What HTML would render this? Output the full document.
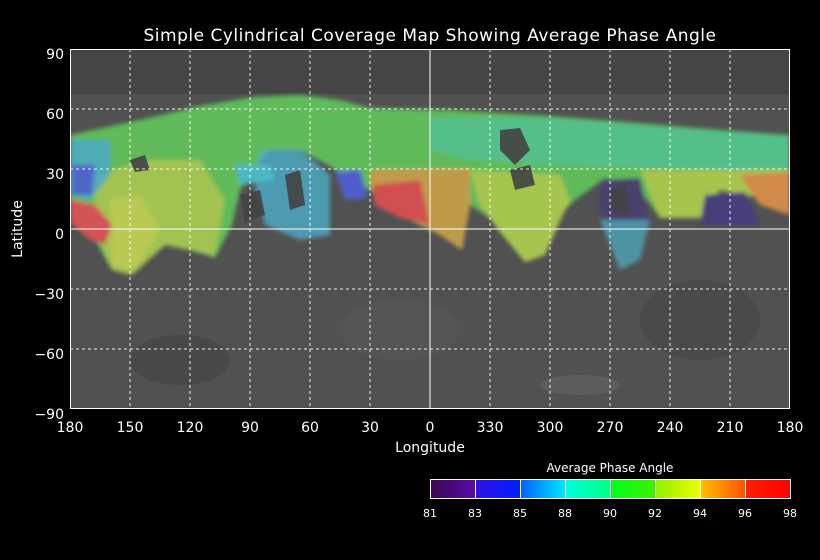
<!DOCTYPE html>
<html><head><meta charset="utf-8"><style>
html,body{margin:0;padding:0;background:#000;}
svg{display:block;}
text{font-family:"DejaVu Sans","Liberation Sans",sans-serif;fill:#fff;}
</style></head><body>
<svg width="820" height="560" viewBox="0 0 820 560" xmlns="http://www.w3.org/2000/svg">
<defs>
<filter id="b2"><feGaussianBlur stdDeviation="2"/></filter>
<linearGradient id="cb" x1="0" x2="1" y1="0" y2="0">
<stop offset="0" stop-color="#3a0850"/><stop offset="0.125" stop-color="#5a0aa8"/>
<stop offset="0.125" stop-color="#3010e0"/><stop offset="0.25" stop-color="#0020ff"/>
<stop offset="0.25" stop-color="#0060ff"/><stop offset="0.375" stop-color="#00e8ff"/>
<stop offset="0.375" stop-color="#00ffe0"/><stop offset="0.5" stop-color="#00ff80"/>
<stop offset="0.5" stop-color="#00ff20"/><stop offset="0.625" stop-color="#40f000"/>
<stop offset="0.625" stop-color="#90f000"/><stop offset="0.75" stop-color="#f0ff00"/>
<stop offset="0.75" stop-color="#ffc000"/><stop offset="0.875" stop-color="#ff5000"/>
<stop offset="0.875" stop-color="#ff2000"/><stop offset="1" stop-color="#ff0000"/>
</linearGradient>
<clipPath id="pc"><rect x="70" y="49" width="720" height="360"/></clipPath>
</defs>
<text x="430" y="41" font-size="17" text-anchor="middle" letter-spacing="0.5">Simple Cylindrical Coverage Map Showing Average Phase Angle</text>
<rect x="70" y="49" width="720" height="360" fill="#515151"/>
<g clip-path="url(#pc)">
<rect x="70" y="49" width="720" height="45" fill="#454545"/>
<ellipse cx="580" cy="385" rx="40" ry="10" fill="#6a6a6a" opacity="0.5"/>
<ellipse cx="180" cy="360" rx="50" ry="25" fill="#484848"/>
<ellipse cx="400" cy="330" rx="60" ry="30" fill="#5a5a5a" opacity="0.5"/>
<ellipse cx="700" cy="320" rx="60" ry="40" fill="#4a4a4a"/>
<g filter="url(#b2)" opacity="0.9">
<polygon fill="#62c65c" points="70,135 140,120 200,106 255,97 300,95 340,100 370,108 450,110 550,116 650,124 720,130 790,135 790,205 760,198 720,190 700,218 660,218 640,190 605,178 575,200 560,215 545,255 525,262 500,232 490,218 470,205 462,250 440,235 400,215 370,190 340,172 300,150 270,150 240,190 232,225 215,258 190,250 165,245 132,275 112,270 92,235 70,222"/>
<polygon fill="#52cc9c" opacity="0.8" points="430,118 550,118 650,126 790,136 790,172 650,168 550,165 470,160 430,150"/>
<polygon fill="#b4d050" opacity="0.9" points="95,175 150,160 200,160 225,200 215,255 190,250 165,245 132,275 112,270 95,230"/>
<polygon fill="#d8d858" opacity="0.6" points="110,200 140,195 160,230 135,270 112,265"/>
<polygon fill="#4cb4cc" opacity="0.9" points="70,140 110,140 110,175 90,200 70,195"/>
<polygon fill="#5060d8" opacity="0.9" points="72,165 95,165 92,195 72,195"/>
<polygon fill="#e05454" points="70,200 95,205 112,225 105,245 90,240 70,222"/>
<polygon fill="#d8a048" opacity="0.9" points="370,170 470,168 470,205 462,250 440,235 400,215 372,192"/>
<polygon fill="#e05050" points="372,185 420,180 430,225 400,218 375,205"/>
<polygon fill="#5060d8" points="335,172 360,170 368,198 345,200"/>
<polygon fill="#4cb8d4" opacity="0.8" points="260,150 300,150 330,175 330,235 300,240 265,225 255,190"/>
<polygon fill="#4cc4d0" points="235,165 270,165 275,180 240,185"/>
<polygon fill="#c4d44c" opacity="0.8" points="470,170 560,175 570,200 545,255 525,262 500,232 480,205"/>
<polygon fill="#ccd448" opacity="0.75" points="640,170 790,170 790,205 760,198 720,190 700,218 660,218"/>
<polygon fill="#4a4070" points="600,180 640,178 650,225 615,232 598,210"/>
<polygon fill="#e09048" points="740,175 790,172 790,215 760,205"/>
<polygon fill="#4a3a80" points="705,195 745,192 760,225 700,225"/>
<polygon fill="#4cbcd0" opacity="0.7" points="600,220 650,220 640,260 620,270"/>
</g>
<g fill="#434343" opacity="0.9">
<polygon points="500,130 520,128 530,150 515,165 500,150"/>
<polygon points="510,170 530,165 535,185 515,190"/>
<polygon points="240,195 260,190 265,215 245,222"/>
<polygon points="130,160 145,155 150,170 135,172"/>
<polygon points="285,175 300,170 305,205 290,210"/>
<polygon points="610,190 625,185 630,210 615,215"/>
</g>
</g>
<g stroke="#fff" stroke-width="1" stroke-dasharray="3,3" fill="none" opacity="0.9">
<path d="M130 49V409M190 49V409M250 49V409M310 49V409M370 49V409M490 49V409M550 49V409M610 49V409M670 49V409M730 49V409"/>
<path d="M70 109H790M70 169H790M70 289H790M70 349H790"/>
</g>
<g stroke="#fff" stroke-width="1" fill="none">
<path d="M430 49V409M70 229H790"/>
<rect x="70.5" y="49.5" width="719" height="359"/>
</g>
<g font-size="14" text-anchor="end">
<text x="64" y="59">90</text><text x="64" y="119">60</text><text x="64" y="179">30</text>
<text x="64" y="239">0</text><text x="64" y="299">−30</text><text x="64" y="359">−60</text><text x="64" y="419">−90</text>
</g>
<g font-size="14" text-anchor="middle">
<text x="70" y="432">180</text><text x="130" y="432">150</text><text x="190" y="432">120</text><text x="250" y="432">90</text>
<text x="310" y="432">60</text><text x="370" y="432">30</text><text x="430" y="432">0</text><text x="490" y="432">330</text>
<text x="550" y="432">300</text><text x="610" y="432">270</text><text x="670" y="432">240</text><text x="730" y="432">210</text><text x="790" y="432">180</text>
</g>
<text x="430" y="452" font-size="14" text-anchor="middle">Longitude</text>
<text transform="translate(22,229) rotate(-90)" font-size="14" text-anchor="middle">Latitude</text>
<text x="610" y="472" font-size="12" text-anchor="middle">Average Phase Angle</text>
<rect x="430" y="479" width="361" height="20" fill="url(#cb)"/>
<g stroke="#fff" stroke-width="1" fill="none">
<rect x="430.5" y="479.5" width="360" height="19"/>
<path d="M475.5 479V499M520.5 479V499M565.5 479V499M610.5 479V499M655.5 479V499M700.5 479V499M745.5 479V499"/>
</g>
<g font-size="11" text-anchor="middle">
<text x="430" y="517">81</text><text x="475" y="517">83</text><text x="520" y="517">85</text><text x="565" y="517">88</text>
<text x="610" y="517">90</text><text x="655" y="517">92</text><text x="700" y="517">94</text><text x="745" y="517">96</text><text x="790" y="517">98</text>
</g>
</svg>
</body></html>
